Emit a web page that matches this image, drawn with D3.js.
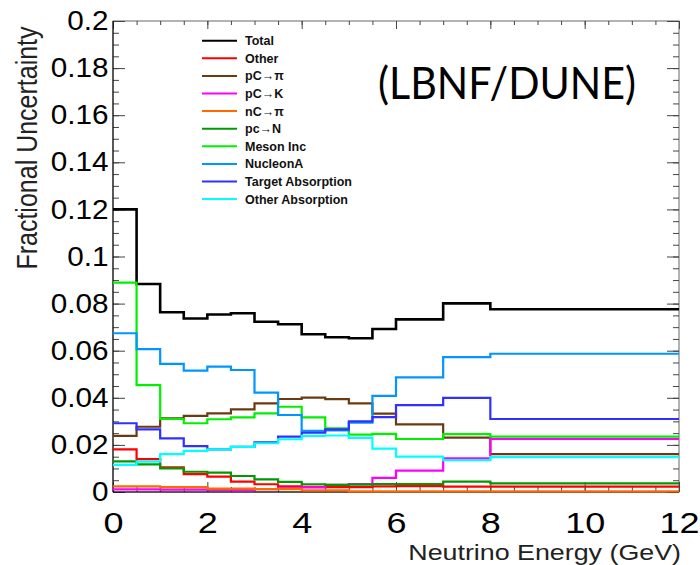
<!DOCTYPE html>
<html>
<head>
<meta charset="utf-8">
<script src="https://cdn.jsdelivr.net/npm/d3@7"></script>
<style>
  body { margin: 0; background: #fff; overflow: hidden; }
  svg { font-family: "Liberation Sans", Arial, sans-serif; display: block; }
</style>
</head>
<body>
<div id="chart-area"></div>
<script>
// bin edges in GeV (0.5 GeV bins up to 6, then 6-7, 7-8, 8-12)
var binEdges = [0, 0.5, 1, 1.5, 2, 2.5, 3, 3.5, 4, 4.5, 5, 5.5, 6, 7, 8, 12];

var total      = [0.1200, 0.0883, 0.0763, 0.0737, 0.0754, 0.0759, 0.0723, 0.0712, 0.0670, 0.0657, 0.0653, 0.0692, 0.0733, 0.0801, 0.0776];
var other      = [0.0181, 0.0140, 0.0105, 0.0076, 0.0065, 0.0044, 0.0033, 0.0024, 0.0022, 0.0021, 0.0021, 0.0024, 0.0025, 0.0023, 0.0023];
var pcPi       = [0.0238, 0.0277, 0.0313, 0.0323, 0.0334, 0.0351, 0.0376, 0.0395, 0.0401, 0.0394, 0.0376, 0.0333, 0.0287, 0.0231, 0.0161];
var pcK        = [0.0011, 0.0011, 0.0010, 0.0010, 0.0009, 0.0008, 0.0012, 0.0016, 0.0020, 0.0030, 0.0034, 0.0060, 0.0091, 0.0143, 0.0225];
var ncPi       = [0.0024, 0.0024, 0.0021, 0.0021, 0.0014, 0.0014, 0.0012, 0.0012, 0.0007, 0.0007, 0.0003, 0.0003, 0.0003, 0.0003, 0.0003];
var pcN        = [0.0130, 0.0117, 0.0100, 0.0086, 0.0082, 0.0068, 0.0054, 0.0043, 0.0033, 0.0030, 0.0031, 0.0034, 0.0034, 0.0044, 0.0037];
var mesonInc   = [0.0889, 0.0454, 0.0310, 0.0292, 0.0309, 0.0317, 0.0334, 0.0362, 0.0317, 0.0270, 0.0244, 0.0247, 0.0225, 0.0246, 0.0235];
var nucleonA   = [0.0674, 0.0607, 0.0544, 0.0515, 0.0532, 0.0518, 0.0422, 0.0327, 0.0260, 0.0262, 0.0295, 0.0408, 0.0487, 0.0573, 0.0587];
var targetAbs  = [0.0292, 0.0266, 0.0228, 0.0195, 0.0181, 0.0192, 0.0211, 0.0235, 0.0252, 0.0266, 0.0300, 0.0318, 0.0369, 0.0400, 0.0310];
var otherAbs   = [0.0115, 0.0129, 0.0161, 0.0175, 0.0181, 0.0192, 0.0207, 0.0224, 0.0238, 0.0240, 0.0230, 0.0184, 0.0150, 0.0135, 0.0148];

var seriesNames  = ["Total", "Other", "pC\u2192\u03c0", "pC\u2192K", "nC\u2192\u03c0", "pc\u2192N", "Meson Inc", "NucleonA", "Target Absorption", "Other Absorption"];
var seriesValues = [total, other, pcPi, pcK, ncPi, pcN, mesonInc, nucleonA, targetAbs, otherAbs];
var seriesColors = ["#000000", "#ff0000", "#6b3a10", "#ff00ff", "#ff6a00", "#009a00", "#00f000", "#0096ff", "#3030ff", "#00ffff"];

var xTicks = [0, 2, 4, 6, 8, 10, 12];
var yTicks = [0, 0.02, 0.04, 0.06, 0.08, 0.1, 0.12, 0.14, 0.16, 0.18, 0.2];
var yTickLabels = ["0", "0.02", "0.04", "0.06", "0.08", "0.1", "0.12", "0.14", "0.16", "0.18", "0.2"];

var width = 700, height = 565;
var plot = { left: 113, right: 679, top: 21, bottom: 492 };

var svg = d3.select("#chart-area")
    .append("svg")
    .attr("width", width)
    .attr("height", height);

var x = d3.scaleLinear().domain([0, 12]).range([plot.left, plot.right]);
var y = d3.scaleLinear().domain([0, 0.2]).range([plot.bottom, plot.top]);

// frame
svg.append("rect")
    .attr("x", plot.left).attr("y", plot.top)
    .attr("width", plot.right - plot.left)
    .attr("height", plot.bottom - plot.top)
    .attr("fill", "none")
    .attr("stroke", "#666")
    .attr("stroke-width", 1);

// minor + major ticks, pointing inwards (ROOT style)
var minorX = d3.range(0, 12.01, 0.5);
var minorY = d3.range(0, 0.2001, 0.005);

function tickAxis(axis, tx, ty, vals, size) {
    svg.append("g")
        .attr("class", "ticks")
        .attr("transform", "translate(" + tx + "," + ty + ")")
        .call(axis.tickValues(vals).tickSize(size).tickFormat(""));
}
tickAxis(d3.axisBottom(x), 0, plot.bottom, minorX, -5);
tickAxis(d3.axisBottom(x), 0, plot.bottom, xTicks, -10);
tickAxis(d3.axisTop(x), 0, plot.top, minorX, -4);
tickAxis(d3.axisTop(x), 0, plot.top, xTicks, -8);
tickAxis(d3.axisLeft(y), plot.left, 0, minorY, -6);
tickAxis(d3.axisLeft(y), plot.left, 0, yTicks, -12);
tickAxis(d3.axisRight(y), plot.right, 0, minorY, -6);
tickAxis(d3.axisRight(y), plot.right, 0, yTicks, -12);
svg.selectAll(".ticks .domain").remove();
svg.selectAll(".ticks line").attr("stroke", "#444");

// solid axis lines bottom/left
svg.append("line").attr("x1", plot.left).attr("x2", plot.right)
    .attr("y1", plot.bottom).attr("y2", plot.bottom).attr("stroke", "#000");
svg.append("line").attr("x1", plot.left).attr("x2", plot.left)
    .attr("y1", plot.top).attr("y2", plot.bottom).attr("stroke", "#000");

// tick labels
var yLab = svg.append("g")
    .attr("transform", "translate(" + plot.left + ",0)")
    .call(d3.axisLeft(y).tickValues(yTicks).tickSize(0).tickPadding(4)
        .tickFormat(function(d, i) { return yTickLabels[i]; }));
yLab.select(".domain").remove();
yLab.selectAll("text")
    .attr("font-size", 27)
    .attr("fill", "#000")
    .attr("font-family", "Liberation Sans, Arial, sans-serif")
    .attr("transform", "scale(1.1,1)");

var xLab = svg.append("g")
    .attr("transform", "translate(0," + plot.bottom + ")")
    .call(d3.axisBottom(x).tickValues(xTicks).tickSize(0).tickPadding(20)
        .tickFormat(d3.format("d")));
xLab.select(".domain").remove();
xLab.selectAll("text")
    .attr("font-size", 30)
    .attr("fill", "#000")
    .attr("font-family", "Liberation Sans, Arial, sans-serif")
    .attr("transform", "scale(1.2,1)");

// axis titles
svg.append("text")
    .attr("transform", "translate(681,560) scale(1.22,1)")
    .attr("text-anchor", "end")
    .attr("font-size", 22)
    .attr("fill", "#222")
    .text("Neutrino Energy (GeV)");

svg.append("text")
    .attr("transform", "translate(37,148) rotate(-90) scale(1,1.15)")
    .attr("text-anchor", "middle")
    .attr("font-size", 25)
    .attr("fill", "#222")
    .text("Fractional Uncertainty");

// step histograms
var line = d3.line()
    .x(function(d) { return x(d[0]); })
    .y(function(d) { return y(d[1]); })
    .curve(d3.curveStepAfter);

seriesValues.forEach(function(vals, k) {
    var pts = vals.map(function(v, i) { return [binEdges[i], v]; });
    pts.push([binEdges[binEdges.length - 1], vals[vals.length - 1]]);
    svg.append("path")
        .datum(pts)
        .attr("fill", "none")
        .attr("stroke", seriesColors[k])
        .attr("stroke-width", k == 0 ? 2.6 : 2.2)
        .attr("d", line);
});

// legend
var legend = svg.append("g");
seriesNames.forEach(function(name, i) {
    var ly = 40.7 + i * 17.6;
    legend.append("line")
        .attr("x1", 202).attr("x2", 237)
        .attr("y1", ly).attr("y2", ly)
        .attr("stroke", seriesColors[i])
        .attr("stroke-width", 2);
    legend.append("text")
        .attr("x", 245).attr("y", ly + 4.5)
        .attr("font-size", 12.5)
        .attr("font-weight", "bold")
        .attr("fill", "#111")
        .text(name);
});

// annotation
svg.append("text")
    .attr("x", 378).attr("y", 99)
    .attr("font-family", "Lato, 'Open Sans', sans-serif")
    .attr("font-size", 44)
    .attr("textLength", 258)
    .attr("lengthAdjust", "spacingAndGlyphs")
    .attr("fill", "#000")
    .text("(LBNF/DUNE)");
</script>
</body>
</html>
